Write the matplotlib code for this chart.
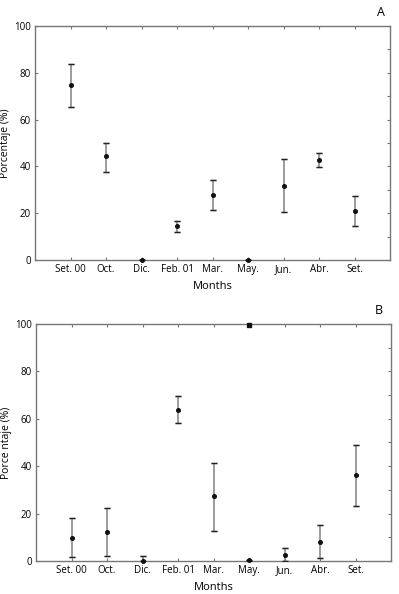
import matplotlib
matplotlib.use("Agg")
import matplotlib.pyplot as plt
import numpy as np

months = ["Set. 00", "Oct.", "Dic.", "Feb. 01", "Mar.", "May.", "Jun.", "Abr.", "Set."]

a_mean = [74.8, 44.3, 0.0, 14.5, 27.8, 0.0, 31.8, 42.9, 20.9]
a_low = [65.2, 37.7, 0.0, 11.8, 21.2, 0.0, 20.5, 39.6, 14.4]
a_high = [83.8, 49.9, 0.0, 16.8, 34.0, 0.0, 43.0, 45.6, 27.2]

b_mean = [9.9, 12.4, 0.1, 63.9, 27.5, 0.3, 2.5, 8.0, 36.2]
b_low = [1.5, 2.1, 0.0, 58.2, 12.5, 0.0, 0.0, 1.3, 23.2]
b_high = [18.3, 22.5, 2.1, 69.6, 41.3, 0.5, 5.4, 15.1, 48.9]

b_extra_month = ["May."]
b_extra_value = [99.7]

yticks = [0, 20, 40, 60, 80, 100]

plt.rcParams['font.family'] = ['Open Sans', 'DejaVu Sans']

fig = plt.figure(figsize=(3.99, 5.94), dpi=100)
axA = fig.add_axes([0.0877, 0.5623, 0.890, 0.394])
axB = fig.add_axes([0.0902, 0.0556, 0.890, 0.399])

frame_col = "#777777"

def draw(ax, mean, low, high, ylabel):
    x = np.arange(1, len(months) + 1)
    mean = np.array(mean); low = np.array(low); high = np.array(high)
    yerr = np.vstack([mean - low, high - mean])
    ax.errorbar(x, mean, yerr=yerr, fmt='none', ecolor="#8a8a8a", elinewidth=1.2,
                capsize=2.5, capthick=1.0, zorder=2)
    ax.errorbar(x, mean, yerr=yerr, fmt='none', ecolor="#222222", elinewidth=0,
                capsize=2.5, capthick=1.0, zorder=3)
    ax.plot(x, mean, 'o', color="#111111", markersize=2.6, zorder=4, clip_on=False)
    ax.set_xlim(0, 10)
    ax.set_ylim(0, 100)
    ax.set_xticks(x)
    ax.set_xticklabels(months, fontsize=7)
    ax.set_yticks(yticks)
    ax.set_yticklabels([str(v) for v in yticks], fontsize=7)
    ax.set_yticks(np.arange(0, 101, 10), minor=True)
    ax.tick_params(axis='both', which='major', direction='in', length=2, width=0.8,
                   color=frame_col, top=True, right=True, pad=3)
    ax.tick_params(axis='y', which='minor', direction='in', length=2, width=0.8,
                   color=frame_col, left=False, right=True)
    ax.tick_params(axis='x', which='minor', bottom=False, top=False)
    for s in ax.spines.values():
        s.set_color(frame_col)
        s.set_linewidth(1.0)
    ax.set_xlabel("Months", fontsize=8, labelpad=4)
    ax.set_ylabel(ylabel, fontsize=7.5)
    ax.yaxis.set_label_coords(-0.068, 0.5)

draw(axA, a_mean, a_low, a_high, "Porcentaje (%)")
draw(axB, b_mean, b_low, b_high, "Porce ntaje (%)")

xe = [months.index(m) + 1 for m in b_extra_month]
axB.plot(xe, b_extra_value, 's', color="#111111", markersize=2.3, zorder=5, clip_on=False)

fig.text(381 / 399, 1 - 12 / 594, "A", fontsize=9, ha='center', va='center')
fig.text(379 / 399, 1 - 311 / 594, "B", fontsize=9, ha='center', va='center')

fig.savefig("out.png", dpi=100)
